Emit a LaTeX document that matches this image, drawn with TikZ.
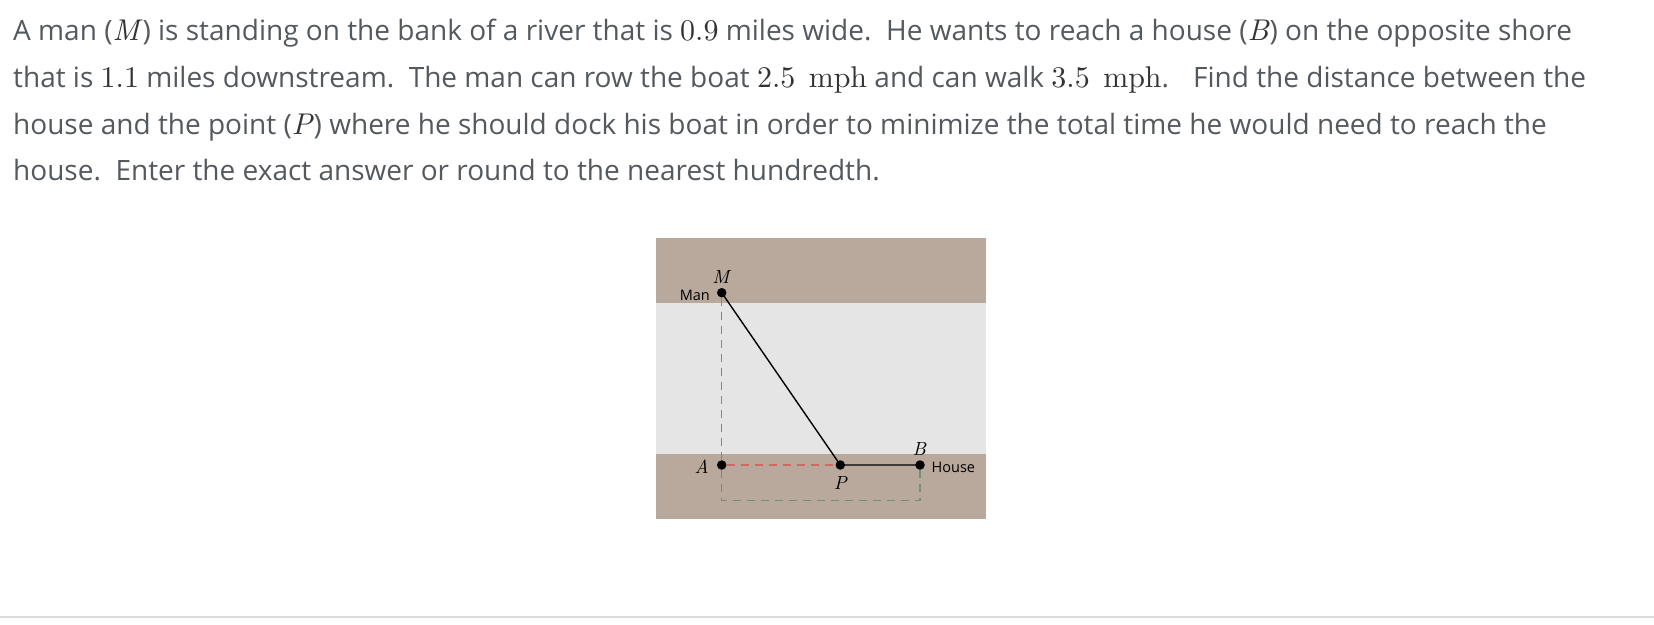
\documentclass[tikz,border=0pt]{standalone}
\usepackage[no-math]{fontspec}
\setmainfont{Open Sans}
\newfontfamily\lmfont{lmroman10-regular}[Extension=.otf, ItalicFont=lmroman10-italic]
\definecolor{txt}{HTML}{54595E}
\definecolor{mth}{HTML}{333333}
\definecolor{bank}{HTML}{B9A99C}
\definecolor{river}{HTML}{E5E5E5}
\definecolor{reddash}{HTML}{CC6A60}
\definecolor{greendash}{HTML}{6F926F}
\definecolor{rule}{HTML}{DCDCDC}
\frenchspacing
% upright and italic Latin Modern, scalable, for the math pieces
\newcommand{\mr}[1]{{\color{mth}\fontsize{30}{33}\lmfont #1}}
\newcommand{\mi}[1]{{\color{mth}\fontsize{30}{33}\lmfont\itshape #1\/}}
\newcommand{\li}[1]{{\lmfont\itshape #1}}
\begin{document}
\begin{tikzpicture}[x=1pt,y=-1pt,
  line/.style={anchor=base west,inner sep=0pt,text=txt,font=\fontsize{28}{33}\selectfont},
  dot/.style={circle,fill=black,minimum size=9.5pt,inner sep=0pt},
  lbl/.style={inner sep=0pt,font=\fontsize{14.5}{17}\selectfont},
  mlbl/.style={inner sep=0pt,font=\fontsize{19}{22}\selectfont},
  dsh/.style={line width=1.5pt,dash pattern=on 8pt off 6pt}]
\useasboundingbox (0,0) rectangle (1654,624);
% text
\node[line] (l1) at (13,40.5) {A man (\mi{M}) is standing on the bank of a river that is \mr{0.9} miles wide.~ He wants to reach a house (\mi{B}) on the opposite shore};
\node[line] (l2) at (13,87.5) {that is \mr{1.1} miles downstream.~ The man can row the boat \mr{2.5\hspace{0.45em}mph} and can walk \mr{3.5\hspace{0.45em}mph}.\hspace{0.6em} Find the distance between the};
\node[line] (l3) at (13,134) {house and the point (\mi{P}) where he should dock his boat in order to minimize the total time he would need to reach the};
\node[line] (l4) at (13,180) {house.~ Enter the exact answer or round to the nearest hundredth.};
% diagram background
\fill[bank] (656,237.7) rectangle (985.7,519.3);
\fill[river] (656,303.3) rectangle (985.7,454);
% points
\coordinate (C) at (721.7,500.7);
\coordinate (D) at (920,500.7);
\node[dot] (M) at (721.7,292.7) {};
\node[dot] (A) at (721.7,465) {};
\node[dot] (P) at (840.3,465) {};
\node[dot] (B) at (920,465) {};
\draw[dsh,reddash] (M) -- (A);
\draw[dsh,reddash] (A) -- (P);
\draw[dsh,greendash] (A) -- (C) -- (D) -- (B);
\draw[line width=1.4pt] (M.center) -- (P.center) -- (B.center);
% labels
\node[mlbl] (Ml) at (721,276.7) {\li{M}};
\node[lbl,anchor=east] (Man) at (710,295) {Man};
\node[mlbl,anchor=east] (Al) at (709,467) {\li{A}};
\node[mlbl] (Pl) at (840.3,482.7) {\li{P}};
\node[mlbl] (Bl) at (919.3,449) {\li{B}};
\node[lbl,anchor=west] (House) at (931.5,467) {House};
% rule
\fill[rule] (0,616) rectangle (1654,618);
\end{tikzpicture}
\end{document}
